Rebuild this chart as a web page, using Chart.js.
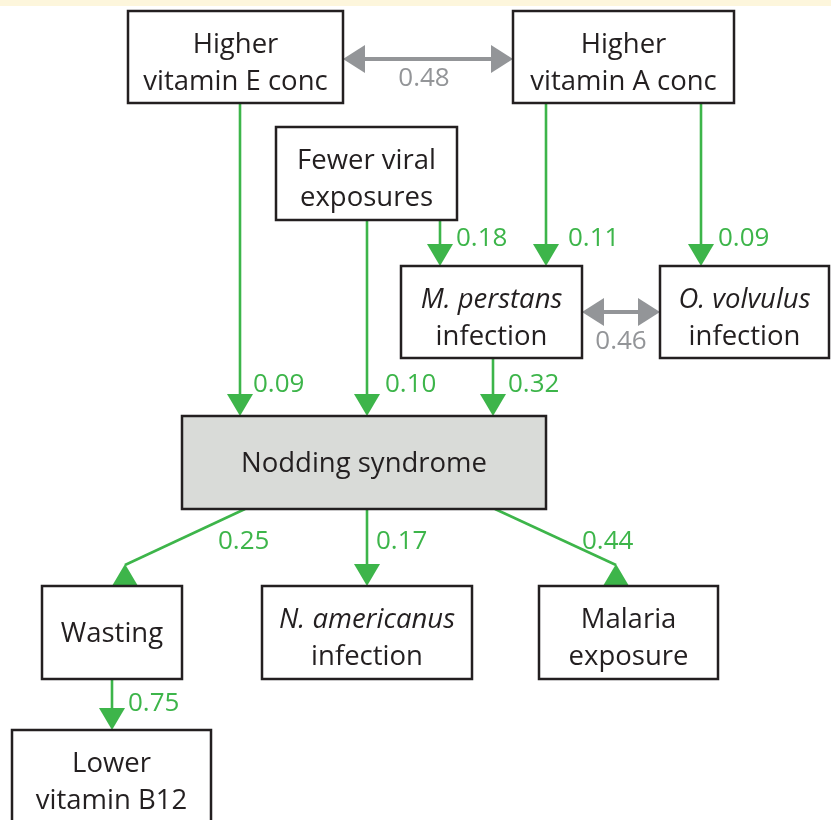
<!DOCTYPE html>
<html><head><meta charset="utf-8">
<script src="https://cdn.jsdelivr.net/npm/chart.js@4.4.0/dist/chart.umd.min.js"></script>
<style>html,body{margin:0;padding:0;background:#fff}#wrap{width:831px;height:820px}</style>
</head><body><div id="wrap"><canvas id="c" width="831" height="820"></canvas></div>
<script>
// ---- data ----
const nodeLabels = [
  ["Higher","vitamin E conc"],
  ["Higher","vitamin A conc"],
  ["Fewer viral","exposures"],
  ["M. perstans","infection"],
  ["O. volvulus","infection"],
  ["Nodding syndrome"],
  ["Wasting"],
  ["N. americanus","infection"],
  ["Malaria","exposure"],
  ["Lower","vitamin B12"]
];
const nodeItalicFirstLine = [false,false,false,true,true,false,false,true,false,false];
const nodeHighlighted = [false,false,false,false,false,true,false,false,false,false];
// box extents in chart units: left, top, right, bottom
const nodeLeft   = [128, 513, 276, 401, 660, 182,  42, 262, 539,  12];
const nodeTop    = [ 11,  11, 127, 266, 266, 416, 586, 586, 586, 730];
const nodeRight  = [343, 734, 457, 582, 829, 546, 182, 472, 718, 211];
const nodeBottom = [103, 103, 220, 358, 358, 509, 679, 679, 679, 830];

const pathFrom = [0, 0, 2, 3, 2, 1, 1, 3, 5, 5, 5, 6];
const pathTo   = [1, 5, 5, 5, 3, 3, 4, 4, 6, 7, 8, 9];
const pathCoef = ["0.48","0.09","0.10","0.32","0.18","0.11","0.09","0.46","0.25","0.17","0.44","0.75"];
const pathCorrelation = [true,false,false,false,false,false,false,true,false,false,false,false];
// anchor coordinates of each path (start x/y, end x/y) in chart units
const pathX1 = [343, 240, 367, 493, 440, 546, 701, 582, 245, 367, 495, 112];
const pathY1 = [ 59, 103, 220, 358, 220, 103, 103, 312, 509, 509, 509, 679];
const pathX2 = [513, 240, 367, 493, 440, 546, 701, 660, 125, 367, 616, 112];
const pathY2 = [ 59, 416, 416, 416, 266, 266, 266, 312, 565, 586, 565, 730];
const labelX = [424, 253, 385, 508, 456, 568, 718, 621, 218, 376, 582, 128];
const labelY = [ 78, 384, 384, 384, 238, 238, 238, 341, 541, 541, 541, 703];
const labelCentered = [true,false,false,false,false,false,false,true,false,false,false,false];

// ---- styles ----
const GREEN = '#3db54a', GREY = '#939598', INK = '#231f20';
const FONT = '"Open Sans", "Noto Sans", sans-serif';

const diagramPlugin = {
  id: 'diagram',
  afterDraw(chart) {
    const ctx = chart.ctx, xs = chart.scales.x, ys = chart.scales.y;
    const px = v => xs.getPixelForValue(v), py = v => ys.getPixelForValue(v);
    ctx.save();
    // top strip
    ctx.fillStyle = '#fdf6dc';
    ctx.fillRect(px(0), py(0), px(831) - px(0), py(6) - py(0));

    // paths
    pathFrom.forEach((f, i) => {
      const x1 = px(pathX1[i]), y1 = py(pathY1[i]), x2 = px(pathX2[i]), y2 = py(pathY2[i]);
      const corr = pathCorrelation[i];
      const col = corr ? GREY : GREEN;
      ctx.strokeStyle = col; ctx.fillStyle = col;
      if (corr) {
        const hl = 22, hw = 14;
        ctx.lineWidth = 4;
        ctx.beginPath(); ctx.moveTo(x1 + hl - 2, y1); ctx.lineTo(x2 - hl + 2, y2); ctx.stroke();
        ctx.beginPath(); ctx.moveTo(x1, y1); ctx.lineTo(x1 + hl, y1 - hw); ctx.lineTo(x1 + hl, y1 + hw); ctx.closePath(); ctx.fill();
        ctx.beginPath(); ctx.moveTo(x2, y2); ctx.lineTo(x2 - hl, y2 - hw); ctx.lineTo(x2 - hl, y2 + hw); ctx.closePath(); ctx.fill();
      } else if (x1 === x2) {
        const hl = 22, hw = 13;
        ctx.lineWidth = 2.6;
        ctx.beginPath(); ctx.moveTo(x1, y1); ctx.lineTo(x2, y2 - hl + 2); ctx.stroke();
        ctx.beginPath(); ctx.moveTo(x2, y2); ctx.lineTo(x2 - hw, y2 - hl); ctx.lineTo(x2 + hw, y2 - hl); ctx.closePath(); ctx.fill();
      } else {
        // diagonal: line ends at apex, head base sits on target box top
        const baseY = py(nodeTop[pathTo[i]]);
        ctx.lineWidth = 2.6;
        ctx.beginPath(); ctx.moveTo(x1, y1); ctx.lineTo(x2, y2); ctx.stroke();
        ctx.beginPath(); ctx.moveTo(x2, y2 - 1); ctx.lineTo(x2 - 13, baseY); ctx.lineTo(x2 + 13, baseY); ctx.closePath(); ctx.fill();
      }
      ctx.font = '26px ' + FONT;
      ctx.textBaseline = 'middle';
      ctx.textAlign = labelCentered[i] ? 'center' : 'left';
      ctx.fillText(pathCoef[i], px(labelX[i]), py(labelY[i]) + 1);
    });

    // boxes
    nodeLabels.forEach((lines, i) => {
      const l = px(nodeLeft[i]), t = py(nodeTop[i]), r = px(nodeRight[i]), b = py(nodeBottom[i]);
      ctx.fillStyle = nodeHighlighted[i] ? '#d9dbd8' : '#ffffff';
      ctx.fillRect(l, t, r - l, b - t);
      ctx.lineWidth = 2.5; ctx.strokeStyle = INK;
      ctx.strokeRect(l, t, r - l, b - t);
      ctx.fillStyle = INK;
      ctx.textAlign = 'center'; ctx.textBaseline = 'middle';
      const cx = (l + r) / 2;
      const lh = 36.5;
      lines.forEach((s, k) => {
        ctx.font = ((k === 0 && nodeItalicFirstLine[i]) ? 'italic ' : '') + '27.5px ' + FONT;
        const y = lines.length === 1 ? (t + b) / 2 + 2 : t + 34.5 + k * lh;
        ctx.fillText(s, cx, y);
      });
    });
    ctx.restore();
  }
};

new Chart(document.getElementById('c'), {
  type: 'scatter',
  data: { datasets: [{ data: [], pointRadius: 0 }] },
  options: {
    responsive: false, animation: false,
    layout: { padding: 0 },
    plugins: { legend: { display: false }, tooltip: { enabled: false } },
    scales: {
      x: { type: 'linear', min: 0, max: 831, display: false },
      y: { type: 'linear', min: 0, max: 820, reverse: true, display: false }
    }
  },
  plugins: [diagramPlugin]
});
</script></body></html>
